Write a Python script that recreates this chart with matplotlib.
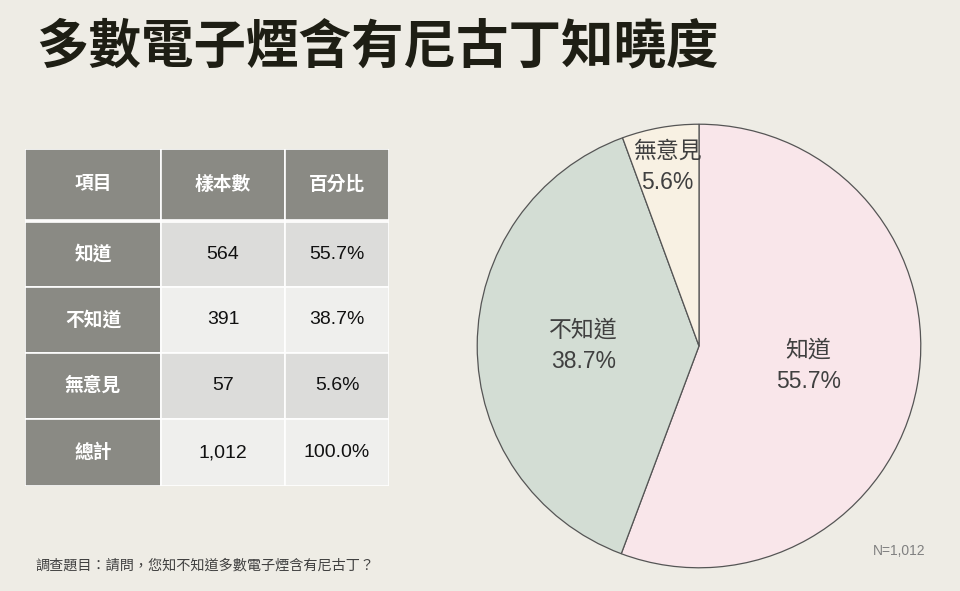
import matplotlib
matplotlib.use("Agg")
import matplotlib.pyplot as plt
from matplotlib.patches import Rectangle
import numpy as np

plt.rcParams['font.family'] = ['Liberation Sans', 'Noto Sans CJK TC', 'DejaVu Sans']

title = "多數電子煙含有尼古丁知曉度"
categories = ["知道", "不知道", "無意見"]
counts = [564, 391, 57]
percents = [55.7, 38.7, 5.6]
total_label = "總計"
total_count = "1,012"
total_pct = "100.0%"
headers = ["項目", "樣本數", "百分比"]
footnote = "調查題目：請問，您知不知道多數電子煙含有尼古丁？"
n_note = "N=1,012"

bg = "#eeece5"
pie_colors = ["#f9e6ea", "#d3ddd4", "#f8f1e3"]

fig = plt.figure(figsize=(9.6, 5.91), dpi=100, facecolor=bg)
W, H = 960, 591

def fax(x0, y0, x1, y1):
    return fig.add_axes([x0 / W, 1 - y1 / H, (x1 - x0) / W, (y1 - y0) / H])

# Title
fig.text(36 / W, 1 - 47 / H, title, fontsize=37.8, fontweight='bold', color="#1e1e14",
         ha='left', va='center', family=['Noto Sans CJK TC'])

# Table
tax = fax(25, 149, 389, 486)
tax.set_xlim(0, 364)
tax.set_ylim(337, 0)
tax.axis('off')
col_edges = [0, 136, 260, 364]
row_edges = [(0, 71), (73, 138), (138, 204), (204, 270), (270, 337)]
gray = "#8a8a84"
light = ["#dcdcda", "#efefed"]
rows = [[headers[0], headers[1], headers[2]]]
for c, n, p in zip(categories, counts, percents):
    rows.append([c, f"{n}", f"{p:.1f}%"])
rows.append([total_label, total_count, total_pct])
for r, (y0, y1) in enumerate(row_edges):
    for c in range(3):
        x0, x1 = col_edges[c], col_edges[c + 1]
        if r == 0 or c == 0:
            fc = gray
            tc = "white"
            fw = 'bold'
            fs = 13.5
        else:
            fc = light[(r - 1) % 2]
            tc = "#111111"
            fw = 'normal'
            fs = 14
        tax.add_patch(Rectangle((x0, y0), x1 - x0, y1 - y0, facecolor=fc,
                                edgecolor='white', linewidth=1.2))
        tax.text((x0 + x1) / 2, (y0 + y1) / 2, rows[r][c], ha='center', va='center',
                 fontsize=fs, color=tc, fontweight=fw)

# Footnote
fig.text(35 / W, 1 - 566 / H, footnote, fontsize=10.2, color="#404040",
         ha='left', va='center', family=['Noto Sans CJK TC'])

# Pie
pax = fax(475, 122, 923, 570)
wedges, _ = pax.pie(percents, colors=pie_colors, startangle=90, counterclock=False,
                    radius=1, wedgeprops=dict(edgecolor="#555555", linewidth=0.9))
pax.set_xlim(-1.01, 1.01)
pax.set_ylim(-1.01, 1.01)
pax.set_aspect('auto')
pax.axis('off')
label_r = [0.5, 0.52, 0.82]
for w, cat, p, lr in zip(wedges, categories, percents, label_r):
    ang = np.deg2rad((w.theta1 + w.theta2) / 2)
    x, y = lr * np.cos(ang), lr * np.sin(ang)
    pax.text(x, y, f"{cat}\n{p:.1f}%", ha='center', va='center', fontsize=16.5,
             color="#404040", linespacing=1.45)

fig.text(899 / W, 1 - 551 / H, n_note, fontsize=10, color="#808080",
         ha='center', va='center')

fig.savefig("out.png", dpi=100, facecolor=bg)
